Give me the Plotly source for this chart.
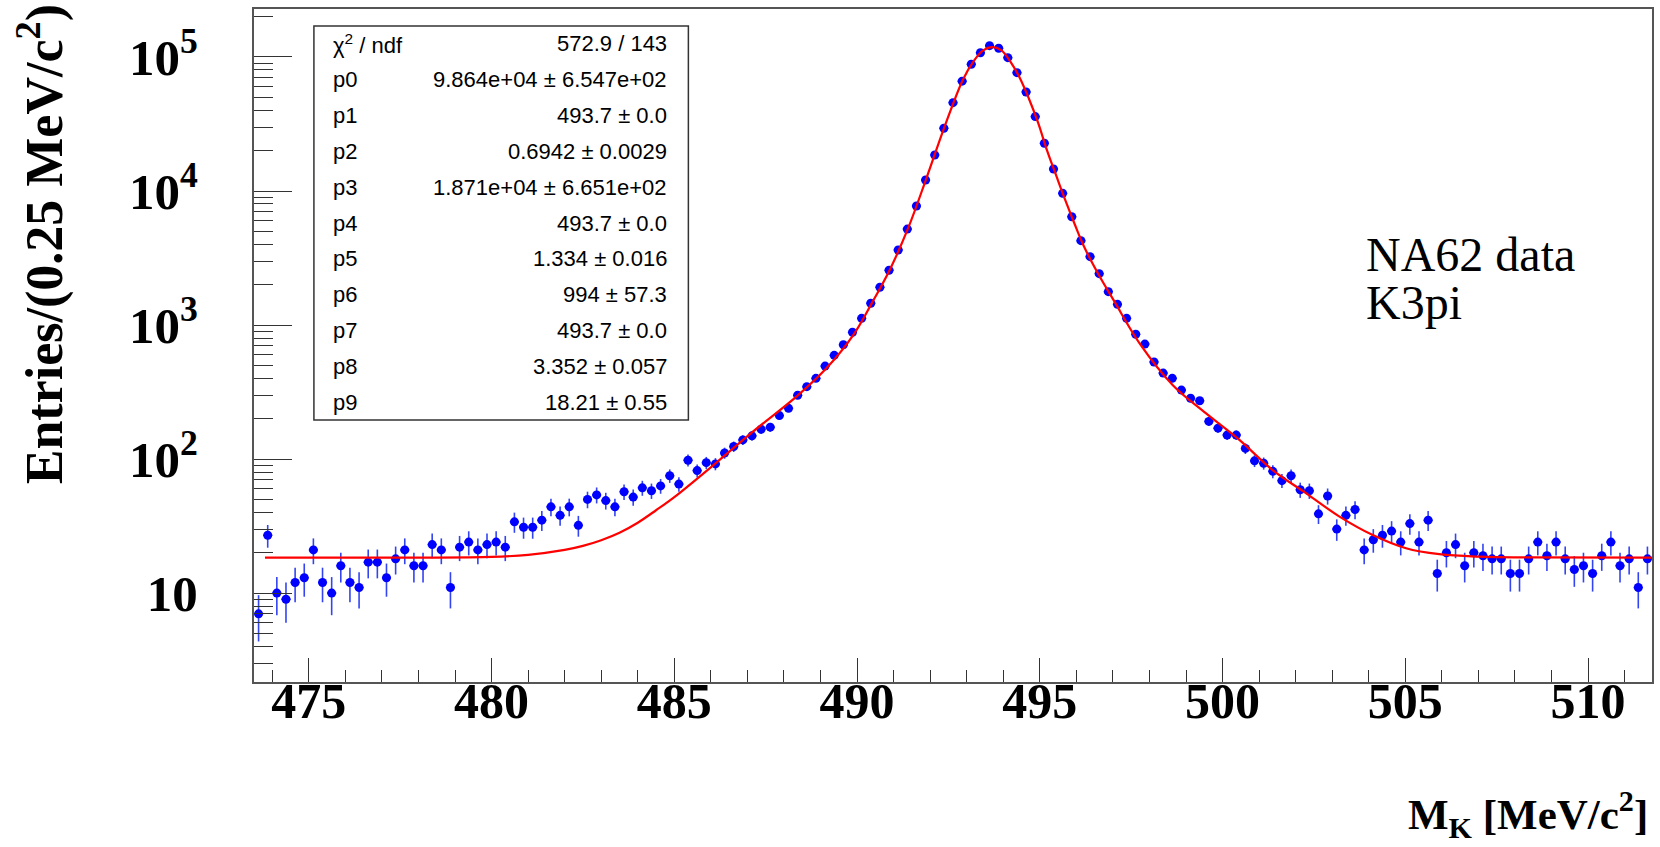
import numpy as np
import plotly.graph_objects as go

# ---------------- data ----------------
bin_lo = 473.5
bin_width = 0.25
counts = [7, 27, 10, 9, 12, 13, 21, 12, 10, 16,
          12, 11, 17, 17, 13, 18, 21, 16, 16, 23,
          21, 11, 22, 24, 21, 23, 24, 22, 34, 31,
          31, 35, 44, 38, 44, 32, 50, 54, 49, 44,
          57, 52, 61, 58, 63, 75, 65, 98, 82, 94,
          92, 111, 124, 139, 149, 167, 173, 211, 239, 299,
          347, 400, 494, 594, 713, 883, 1122, 1453, 1913, 2563,
          3631, 5200, 7727, 12080, 18560, 29380, 45620, 66000, 88200, 107600,
          121400, 116100, 98800, 76400, 54800, 35900, 22700, 14590, 9610, 6430,
          4260, 3236, 2416, 1774, 1427, 1122, 853, 721, 530, 438,
          400, 327, 284, 272, 191, 170, 151, 151, 120, 97,
          93, 81, 69, 75, 59, 58, 39, 53, 30, 38,
          42, 21, 25, 27, 29, 24, 33, 24, 35, 14,
          20, 23, 16, 20, 19, 18, 18, 14, 14, 18,
          24, 19, 24, 18, 15, 16, 14, 19, 24, 16,
          18, 11, 18]

# fit curve (x in MeV/c^2, entries)
fit_x = [473.8, 476.0, 478.0, 480.0, 481.0, 482.0, 482.5, 483.0, 483.5, 484.0,
         484.5, 485.0, 486.15, 487.15, 488.34, 489.16, 489.9, 490.4, 490.9, 491.4,
         491.9, 492.4, 492.9, 493.2, 493.45, 493.7, 493.95, 494.2, 494.45, 494.7,
         494.95, 495.2, 495.45, 495.7, 495.95, 496.2, 496.6, 497.04, 497.73, 498.64,
         499.55, 500.46, 501.37, 502.29, 503.2, 504.11, 505.02, 505.93, 507.0, 508.5,
         511.75]
fit_y = [18.4, 18.4, 18.4, 18.6, 19.3, 21.0, 22.5, 24.8, 28.2, 33.5,
         41.5, 52.0, 94, 160, 292, 475, 845, 1450, 2600, 5300,
         12500, 30500, 68000, 94000, 112000, 118500, 112000, 92000, 70000, 49000,
         32500, 20000, 13000, 8500, 5700, 3900, 2400, 1500, 730, 356,
         219, 139, 82.8, 55.5, 37.2, 27.1, 21.6, 19.5, 18.7, 18.45,
         18.4]

stat_labels = ["χ<sup>2</sup> / ndf", "p0", "p1", "p2", "p3", "p4", "p5", "p6", "p7", "p8", "p9"]
stat_values = ["572.9 / 143", "9.864e+04 ± 6.547e+02", "493.7 ± 0.0", "0.6942 ± 0.0029",
               "1.871e+04 ± 6.651e+02", "493.7 ± 0.0", "1.334 ± 0.016", "994 ± 57.3",
               "493.7 ± 0.0", "3.352 ± 0.057", "18.21 ± 0.55"]

x_tickvals = [475, 480, 485, 490, 495, 500, 505, 510]
y_tickvals = [10, 100, 1000, 10000, 100000]
y_ticktext = ["10", "10<sup>2</sup>", "10<sup>3</sup>", "10<sup>4</sup>", "10<sup>5</sup>"]

# ---------------- geometry ----------------
W, H = 1660, 847
L, R, T, B = 254, 1654, 9, 682


def px(xp):
    return (xp - L) / (R - L)


def py(yp):
    return (B - yp) / (B - T)


centers = [bin_lo + bin_width * (i + 0.5) for i in range(len(counts))]
errs = [float(np.sqrt(c)) for c in counts]

fig = go.Figure()
fig.add_trace(go.Scatter(
    x=centers, y=counts, mode="markers",
    marker=dict(symbol="circle", size=9, color="#0000ff"),
    error_y=dict(type="data", array=errs, visible=True, width=0,
                 thickness=1.6, color="#3344f2"),
    error_x=dict(type="constant", value=bin_width / 2, visible=True, width=0,
                 thickness=1.6, color="#3344f2"),
    hoverinfo="x+y",
))
fig.add_trace(go.Scatter(
    x=fit_x, y=fit_y, mode="lines",
    line=dict(color="#ff0000", width=2.2, shape="spline", smoothing=1.0),
))

minor_y = [m * 10 ** d for d in range(0, 6) for m in range(2, 10)]
minor_y = [v for v in minor_y if 2.2 <= v <= 2.2e5]

serif = "Liberation Serif"
fig.update_layout(
    width=W, height=H,
    margin=dict(l=L, r=W - R, t=T, b=H - B, pad=0),
    paper_bgcolor="white", plot_bgcolor="white",
    showlegend=False,
    xaxis=dict(
        range=[473.5, 511.75], tickvals=x_tickvals,
        ticks="inside", ticklen=24, tickwidth=1, tickcolor="#333",
        showgrid=False, zeroline=False,
        showline=True, linecolor="#555", linewidth=2, mirror=True,
        tickfont=dict(family=serif, size=50, color="black", weight="bold"),
        ticklabelstandoff=-26,
        minor=dict(dtick=1, tick0=475, ticks="inside", ticklen=12, tickwidth=1,
                   tickcolor="#333", showgrid=False),
    ),
    yaxis=dict(
        type="log", range=[np.log10(2.17), np.log10(2.28e5)],
        tickvals=y_tickvals, ticktext=y_ticktext,
        ticks="inside", ticklen=38, tickwidth=1, tickcolor="#333",
        showgrid=False, zeroline=False,
        showline=True, linecolor="#555", linewidth=2, mirror=True,
        tickfont=dict(family=serif, size=51, color="black", weight="bold"),
        ticklabelstandoff=44,
        minor=dict(tickmode="array", tickvals=minor_y, ticks="inside", ticklen=19,
                   tickwidth=1, tickcolor="#333", showgrid=False),
    ),
)

# stat box
box_x0, box_x1, box_y0, box_y1 = 314, 689, 26, 420
fig.add_shape(type="rect", xref="paper", yref="paper",
              x0=px(box_x0), x1=px(box_x1), y0=py(box_y1), y1=py(box_y0),
              line=dict(color="#333", width=1.5), fillcolor="white", layer="above")
row_h = (box_y1 - box_y0) / len(stat_labels)
for k, (lab, val) in enumerate(zip(stat_labels, stat_values)):
    yc = box_y0 + row_h * (k + 0.5)
    fig.add_annotation(xref="paper", yref="paper", x=px(331), y=py(yc),
                       xanchor="left", yanchor="middle", showarrow=False, text=lab,
                       font=dict(family="Liberation Sans", size=22, color="black"))
    fig.add_annotation(xref="paper", yref="paper", x=px(670), y=py(yc),
                       xanchor="right", yanchor="middle", showarrow=False, text=val,
                       font=dict(family="Liberation Sans", size=22, color="black"))

# labels
fig.add_annotation(xref="paper", yref="paper", x=px(1366), y=py(254),
                   xanchor="left", yanchor="middle", showarrow=False, text="NA62 data",
                   font=dict(family=serif, size=48, color="black"))
fig.add_annotation(xref="paper", yref="paper", x=px(1366), y=py(302),
                   xanchor="left", yanchor="middle", showarrow=False, text="K3pi",
                   font=dict(family=serif, size=48, color="black"))

fig.add_annotation(xref="paper", yref="paper", x=px(41), y=py(2),
                   xanchor="center", yanchor="top", showarrow=False, textangle=-90,
                   text="Entries/(0.25 MeV/c<sup>2</sup>)",
                   font=dict(family=serif, size=52, color="black", weight="bold"))
fig.add_annotation(xref="paper", yref="paper", x=px(1652), y=py(814),
                   xanchor="right", yanchor="middle", showarrow=False,
                   text="M<sub>K</sub> [MeV/c<sup>2</sup>]",
                   font=dict(family=serif, size=43, color="black", weight="bold"))

fig.write_html("out.html")
